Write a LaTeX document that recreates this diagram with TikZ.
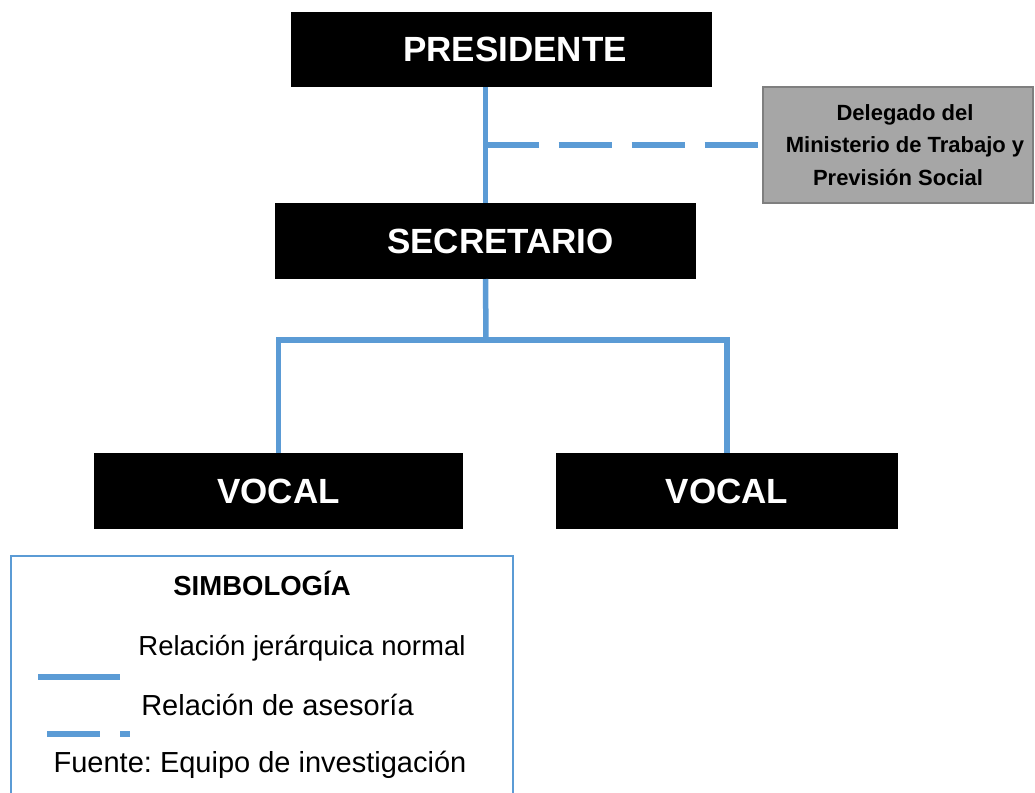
\documentclass[tikz,border=0pt]{standalone}
\usepackage{fontspec}
\setmainfont{Liberation Sans}
\usepackage{tikz}
\frenchspacing
\definecolor{azul}{HTML}{5B9BD5}
\definecolor{grisfondo}{HTML}{A6A6A6}
\definecolor{grisborde}{HTML}{7F7F7F}
\tikzset{
	cargo/.style={fill=black, text=white, inner sep=0pt, outer sep=0pt, font=\fontsize{35}{42}\selectfont\bfseries},
	delegado/.style={fill=grisfondo, draw=grisborde, line width=2pt, inner sep=0pt, outer sep=0pt, align=center, font=\fontsize{22}{32.5}\selectfont\bfseries},
	jerarquia/.style={color=azul, line width=5.5pt},
	asesoria/.style={color=azul, line width=5.5pt, dash pattern=on 53pt off 20pt},
	leyenda/.style={anchor=base, inner sep=0pt, font=\fontsize{29}{34}\selectfont}
}

\begin{document}
\begin{tikzpicture}[x=1pt, y=-1pt]
		%%%%% START %%%%%
		
		\useasboundingbox (0, 0) rectangle (1035, 792);
		
		\node[cargo, minimum width=421pt, minimum height=75pt] (pres) at (501.5, 49.5) {\hspace*{27pt}PRESIDENTE};
		\node[cargo, minimum width=421pt, minimum height=76pt] (sec) at (485.5, 241) {\hspace*{30pt}SECRETARIO};
		\node[cargo, minimum width=369pt, minimum height=76pt] (vocI) at (278.5, 491) {VOCAL};
		\node[cargo, minimum width=342pt, minimum height=76pt] (vocD) at (727, 491) {VOCAL};
		\node[delegado, minimum width=270pt, minimum height=116pt] (deleg) at (898, 145) {\hspace*{14pt}Delegado del\\\hspace*{14pt}Ministerio de Trabajo y\\Previsión Social};
		
		\draw[jerarquia] (sec.north) -- (sec.north |- pres.south);
		\draw[asesoria] (sec.north |- deleg.west) -- (deleg.west);
		
		\coordinate (rama) at (486, 340);
		\draw[jerarquia] (sec.south) -- (rama);
		\draw[jerarquia] (vocI.north) |- (rama) -| (vocD.north);
		
		\draw[color=azul, line width=2.5pt] (11, 556) rectangle (513, 800);
		\node[leyenda, font=\fontsize{27.5}{33}\selectfont\bfseries] (simb) at (262, 595) {SIMBOLOG\'IA};
		\node[leyenda, font=\fontsize{27.5}{33}\selectfont] (normal) at (302, 655) {Relación jerárquica normal};
		\draw[jerarquia, line width=6pt] (38, 677) -- (120, 677);
		\node[leyenda] (ases) at (277.5, 715) {Relación de asesoría};
		\draw[asesoria, line width=6pt] (47, 734) -- (130, 734);
		\node[leyenda] (fuente) at (260, 772) {Fuente: Equipo de investigación};
		
		%%%%% END %%%%%
	\end{tikzpicture}
\end{document}
